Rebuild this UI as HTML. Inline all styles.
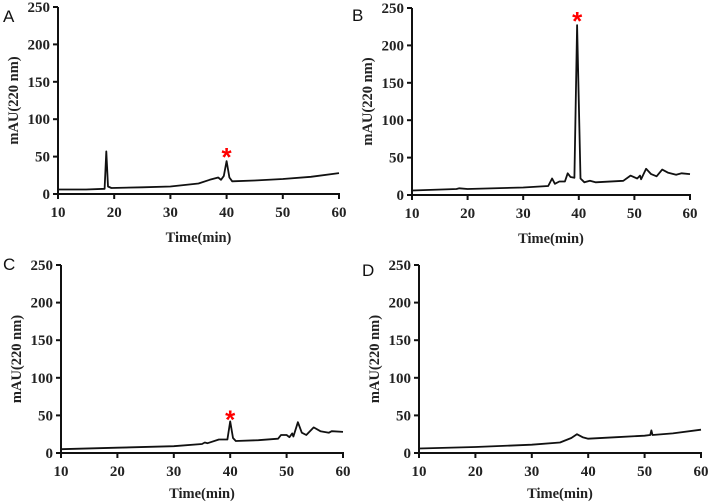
<!DOCTYPE html>
<html><head><meta charset="utf-8"><style>
html,body{margin:0;padding:0;background:#fff}
svg{display:block}
.tk{font-family:"Liberation Serif",serif;font-weight:bold;font-size:15px;fill:#222}
.tt{font-family:"Liberation Serif",serif;font-weight:bold;font-size:14.5px;fill:#222}
.pl{font-family:"Liberation Sans",sans-serif;font-size:17px;fill:#111}
.star{font-family:"Liberation Sans",sans-serif;font-weight:bold;font-size:26px;fill:#f00}
</style></head><body>
<svg id="fig" width="708" height="503" viewBox="0 0 708 503"></svg>
<script>
const xTicks=[10,20,30,40,50,60];
const yTicks=[0,50,100,150,200,250];
const panelNames=["A","B","C","D"];
const timesA=[10,15,18.3,18.6,18.9,19.5,25,30,35,37,38.5,39,39.5,40,40.5,41,45,50,55,60];
const valuesA=[6,6,7,57,10,8,9,10,14,19,22,19,24,44,22,17,18,20,23,28];
const timesB=[10,18,18.5,20,30,34.5,35.2,35.7,36.5,37.5,38,38.5,39.2,39.7,40.3,41,42,43,48,49.3,50.5,51,51.2,52.1,53,54,55,56,57.5,58.5,60];
const valuesB=[6,8,9,8,10,12,22,15,18,18,29,24,23,227,22,17,19,17,19,26,22,26,21,35,28,25,34,30,27,29,28];
const timesC=[10,20,30,35,35.5,36,38,39,39.5,40,40.5,41,45,48.5,49,50,50.5,51,51.2,52,52.7,53.5,54.8,56,57.5,58,60];
const valuesC=[5,7,9,12,14,13,18,18,18,42,20,16,17,19,24,24,21,26,22,41,27,24,34,29,27,29,28];
const timesD=[10,20,30,35,37,38,39,40,45,50,51,51.2,51.4,55,60];
const valuesD=[6,8,11,14,20,25,21,19,21,23,24,30,24,26,31];
const starTimes=[40,39.7,40,null];
const starValues=[55,238,50,null];
const panels=[
 {ox:58,x60:339,yt:7,yb:194,lx:3,ly:22,tb:48,t:timesA,v:valuesA},
 {ox:412,x60:690,yt:8,yb:195,lx:352,ly:21,tb:48,t:timesB,v:valuesB},
 {ox:61,x60:343,yt:265,yb:453,lx:3,ly:270,tb:45,t:timesC,v:valuesC},
 {ox:419,x60:701,yt:265,yb:453,lx:362,ly:276,tb:45,t:timesD,v:valuesD}
];
const svg=document.getElementById('fig');
const NS="http://www.w3.org/2000/svg";
function mk(tag,attrs,parent){const e=document.createElementNS(NS,tag);for(const k in attrs)e.setAttribute(k,attrs[k]);(parent||svg).appendChild(e);return e;}
panels.forEach((p,i)=>{
 const g=mk('g',{});
 
 
 const X=t=>p.ox+(t-10)/50*(p.x60-p.ox);
 const Y=v=>p.yb-v/250*(p.yb-p.yt);
 const lab=mk('text',{x:p.lx,y:p.ly,class:'pl'},g);lab.textContent=panelNames[i];
 
 
 const ya=mk('line',{x1:p.ox,x2:p.ox,y1:p.yt,y2:p.yb+1,stroke:'#111','stroke-width':2},g);
 
 
 const xa=mk('line',{x1:p.ox-1,x2:p.x60+1,y1:p.yb,y2:p.yb,stroke:'#111','stroke-width':2},g);
 
 
 yTicks.forEach(v=>{
  mk('line',{x1:p.ox-5,x2:p.ox,y1:Y(v),y2:Y(v),stroke:'#111','stroke-width':2},g);
  const t=mk('text',{x:p.ox-8,y:Y(v)+5,class:'tk','text-anchor':'end'},g);t.textContent=v;
  
  
 });
 xTicks.forEach(v=>{
  mk('line',{x1:X(v),x2:X(v),y1:p.yb,y2:p.yb+5,stroke:'#111','stroke-width':2},g);
  const t=mk('text',{x:X(v),y:p.yb+23,class:'tk','text-anchor':'middle'},g);t.textContent=v;
  
  
 });
 const xt=mk('text',{x:(p.ox+p.x60)/2,y:p.yb+p.tb,class:'tt','text-anchor':'middle'},g);xt.textContent='Time(min)';
 
 
 const cy=(p.yt+p.yb)/2,cx=p.ox-40;
 const yt=mk('text',{x:cx,y:cy,class:'tt','text-anchor':'middle',transform:`rotate(-90 ${cx} ${cy})`},g);yt.textContent='mAU(220 nm)';
 
 
 const d=p.t.map((t,j)=>(j?'L':'M')+X(t).toFixed(1)+','+Y(p.v[j]).toFixed(1)).join('');
 const path=mk('path',{d:d,fill:'none',stroke:'#111','stroke-width':1.8,'stroke-linejoin':'round'},g);
 
 
 if(starTimes[i]!==null){
  const s=mk('text',{x:X(starTimes[i]),y:Y(starValues[i])+13,class:'star','text-anchor':'middle'},g);s.textContent='*';
  
  
 }
});
</script>
</body></html>
